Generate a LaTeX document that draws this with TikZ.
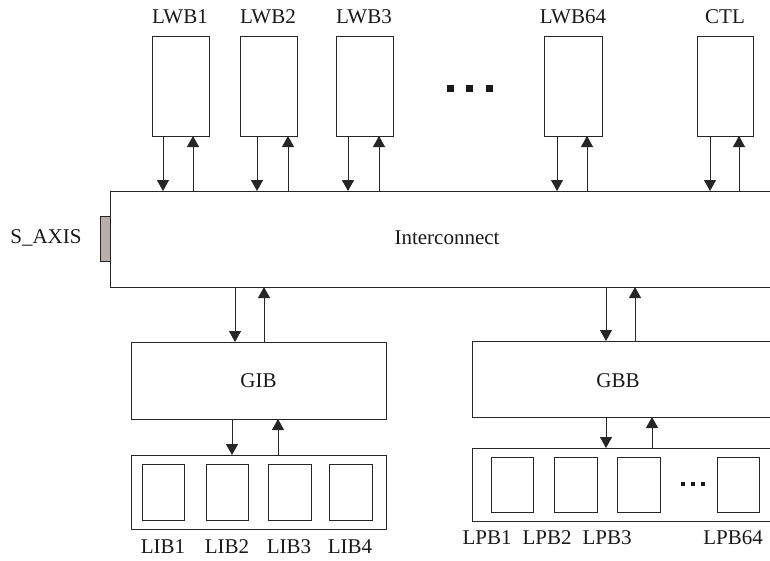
\documentclass[tikz,border=0pt]{standalone}
\usepackage{fontspec}
\setmainfont{Liberation Serif}
\usetikzlibrary{arrows.meta,calc}
\begin{document}
\begin{tikzpicture}[x=1pt,y=-1pt,
  line width=1pt,
  box/.style={draw=black!85,line width=1pt,anchor=north west,inner sep=0pt,outer sep=0pt},
  lbl/.style={font=\fontsize{21}{25}\selectfont,inner sep=0pt,text=black!90},
  arr/.style={draw=black!85,line width=1pt,-{Triangle[width=12pt,length=11pt]}},
  dot/.style={fill=black!90,draw=none}
]
\clip (0,0) rectangle (770,560);
% top boxes
\node[box,minimum width=57pt,minimum height=100pt] (lwb1) at (152,36) {};
\node[box,minimum width=57pt,minimum height=100pt] (lwb2) at (240,36) {};
\node[box,minimum width=57pt,minimum height=100pt] (lwb3) at (336,36) {};
\node[box,minimum width=58pt,minimum height=100pt] (lwb64) at (544,36) {};
\node[box,minimum width=56pt,minimum height=100pt] (ctl) at (697,36) {};
\node[lbl] (t1) at (180,17) {LWB1};
\node[lbl] (t2) at (268,17) {LWB2};
\node[lbl] (t3) at (364,17) {LWB3};
\node[lbl] (t64) at (573,17) {LWB64};
\node[lbl] (tc) at (725,17) {CTL};
% dots
\fill[dot] (447,85) rectangle (454,92);
\fill[dot] (466,85) rectangle (473,92);
\fill[dot] (486,85) rectangle (493,92);
% interconnect
\node[box,minimum width=700pt,minimum height=96pt] (ic) at (110,191) {};
\node[lbl] (ictxt) at (447,238) {Interconnect};
\node[box,fill={rgb,255:red,185;green,174;blue,171},minimum width=10pt,minimum height=45pt] (sax) at (100,216) {};
\node[lbl] (saxtxt) at (46,238) {S\_AXIS};
% top arrows
\draw[arr] ([xshift=11pt]lwb1.south west) -- ([xshift=11pt]lwb1.south west |- ic.north);
\draw[arr] ([xshift=41pt]lwb1.south west |- ic.north) -- ([xshift=41pt]lwb1.south west);
\draw[arr] ([xshift=17pt]lwb2.south west) -- ([xshift=17pt]lwb2.south west |- ic.north);
\draw[arr] ([xshift=48pt]lwb2.south west |- ic.north) -- ([xshift=48pt]lwb2.south west);
\draw[arr] ([xshift=12pt]lwb3.south west) -- ([xshift=12pt]lwb3.south west |- ic.north);
\draw[arr] ([xshift=43pt]lwb3.south west |- ic.north) -- ([xshift=43pt]lwb3.south west);
\draw[arr] ([xshift=13pt]lwb64.south west) -- ([xshift=13pt]lwb64.south west |- ic.north);
\draw[arr] ([xshift=43pt]lwb64.south west |- ic.north) -- ([xshift=43pt]lwb64.south west);
\draw[arr] ([xshift=13pt]ctl.south west) -- ([xshift=13pt]ctl.south west |- ic.north);
\draw[arr] ([xshift=42pt]ctl.south west |- ic.north) -- ([xshift=42pt]ctl.south west);
% GIB
\node[box,minimum width=255pt,minimum height=77pt] (gib) at (131,342) {};
\node[lbl] (gibtxt) at (258.5,381) {GIB};
\draw[arr] ([xshift=104pt]gib.north west |- ic.south) -- ([xshift=104pt]gib.north west);
\draw[arr] ([xshift=133pt]gib.north west) -- ([xshift=133pt]gib.north west |- ic.south);
\node[box,minimum width=255pt,minimum height=74pt] (libc) at (131,455) {};
\draw[arr] ([xshift=101pt]gib.south west) -- ([xshift=101pt]gib.south west |- libc.north);
\draw[arr] ([xshift=147pt]gib.south west |- libc.north) -- ([xshift=147pt]gib.south west);
\node[box,minimum width=42pt,minimum height=56pt] (lib1) at (142,464) {};
\node[box,minimum width=42pt,minimum height=56pt] (lib2) at (206,464) {};
\node[box,minimum width=43pt,minimum height=56pt] (lib3) at (268,464) {};
\node[box,minimum width=43pt,minimum height=56pt] (lib4) at (329,464) {};
\node[lbl] (l1) at (163,547) {LIB1};
\node[lbl] (l2) at (227,547) {LIB2};
\node[lbl] (l3) at (289,547) {LIB3};
\node[lbl] (l4) at (350,547) {LIB4};
% GBB
\node[box,minimum width=340pt,minimum height=76pt] (gbb) at (472,341) {};
\node[lbl] (gbbtxt) at (618,381) {GBB};
\draw[arr] ([xshift=134pt]gbb.north west |- ic.south) -- ([xshift=134pt]gbb.north west);
\draw[arr] ([xshift=163pt]gbb.north west) -- ([xshift=163pt]gbb.north west |- ic.south);
\node[box,minimum width=340pt,minimum height=73pt] (lpbc) at (472,448) {};
\draw[arr] ([xshift=134pt]gbb.south west) -- ([xshift=134pt]gbb.south west |- lpbc.north);
\draw[arr] ([xshift=180pt]gbb.south west |- lpbc.north) -- ([xshift=180pt]gbb.south west);
\node[box,minimum width=42pt,minimum height=55pt] (lpb1) at (491,457) {};
\node[box,minimum width=43pt,minimum height=55pt] (lpb2) at (554,457) {};
\node[box,minimum width=43pt,minimum height=55pt] (lpb3) at (617,457) {};
\node[box,minimum width=42pt,minimum height=55pt] (lpb64) at (717,457) {};
\fill[dot] (681,482) rectangle (685,486);
\fill[dot] (691,482) rectangle (695,486);
\fill[dot] (701,482) rectangle (705,486);
\node[lbl] (p1) at (487,538) {LPB1};
\node[lbl] (p2) at (547,538) {LPB2};
\node[lbl] (p3) at (607,538) {LPB3};
\node[lbl] (p64) at (733,538) {LPB64};
\end{tikzpicture}
\end{document}
